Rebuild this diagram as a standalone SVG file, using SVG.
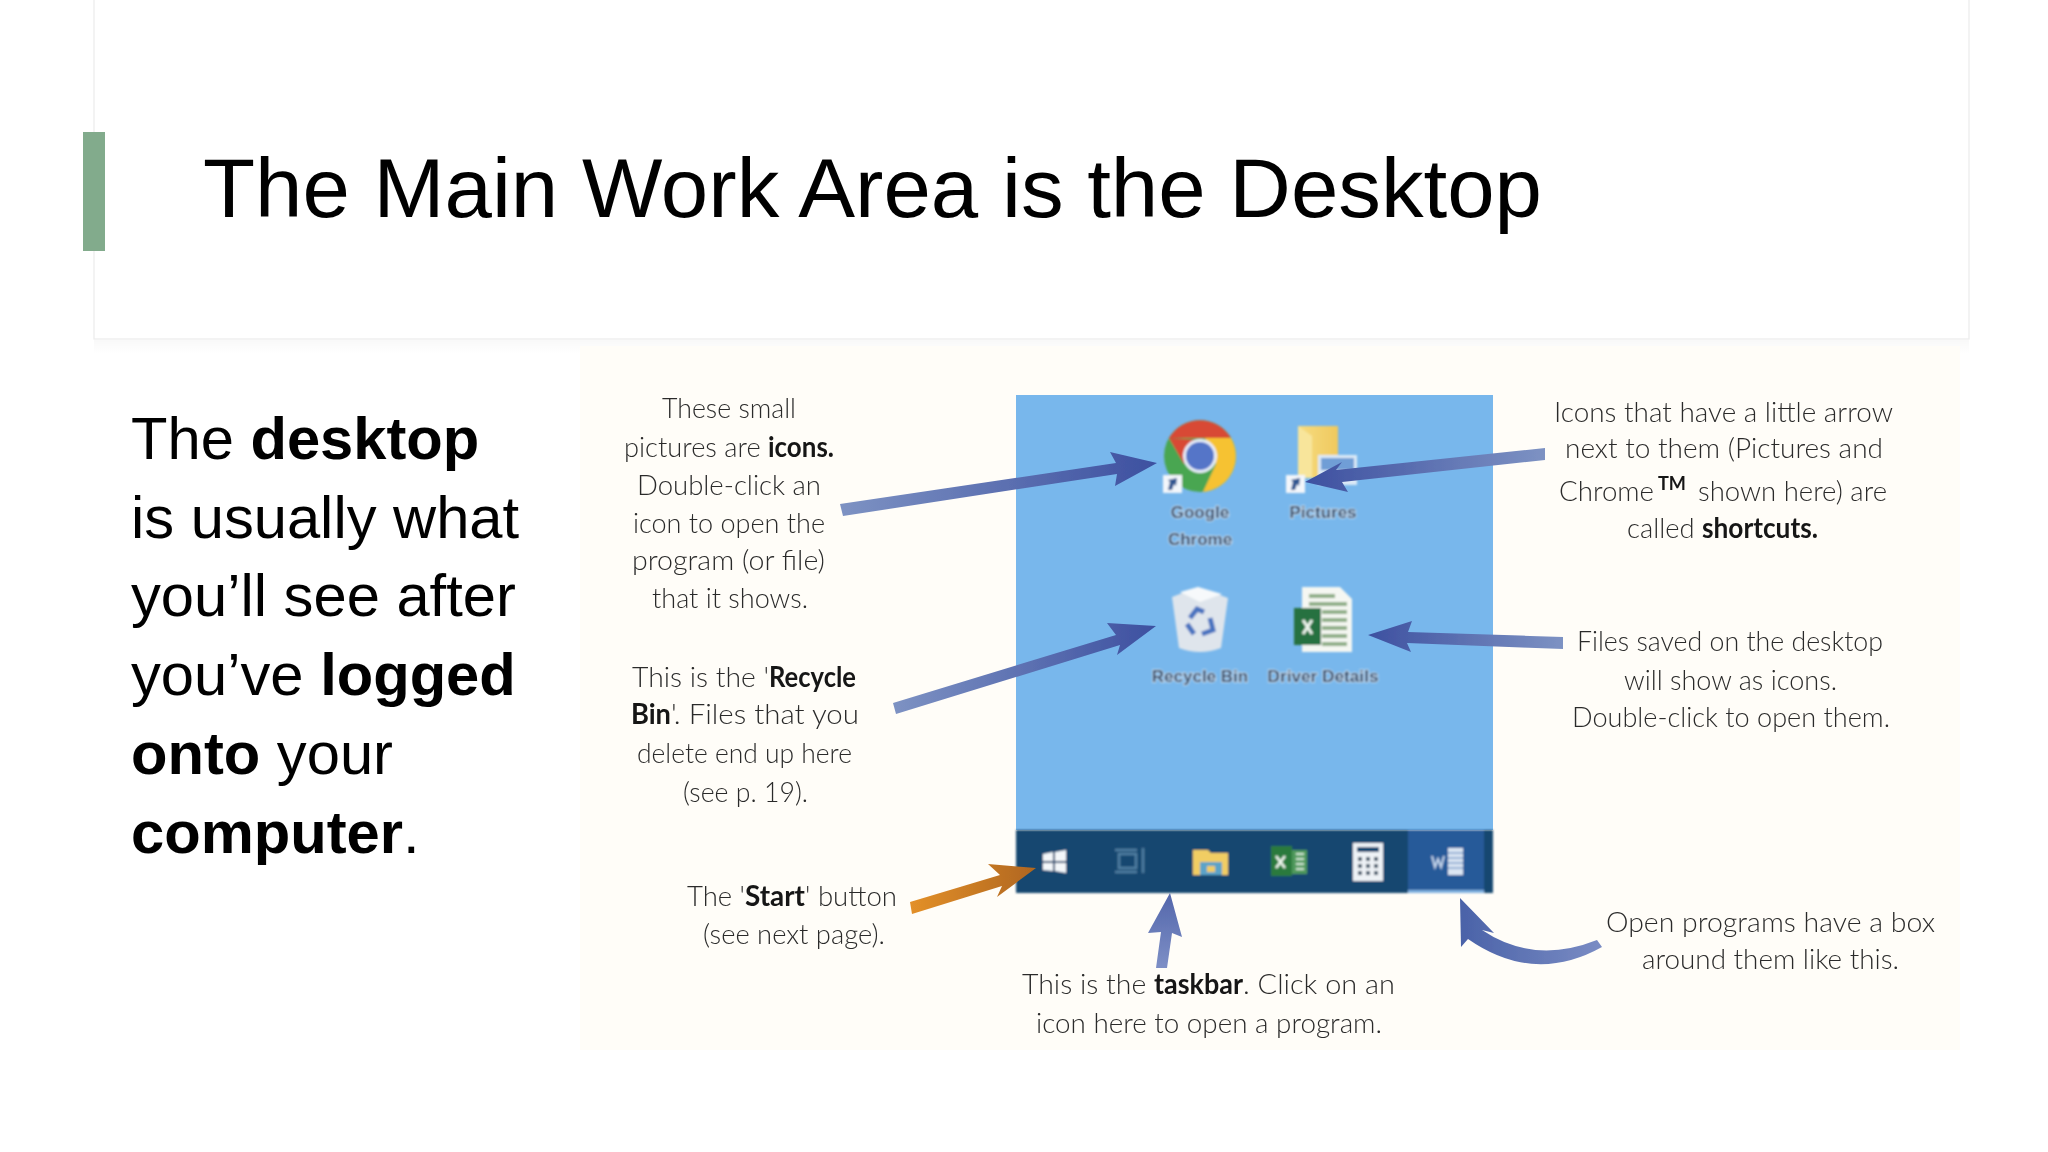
<svg xmlns="http://www.w3.org/2000/svg" width="2048" height="1152" viewBox="0 0 2048 1152">
<style>
.title{font:84px "Liberation Sans",Arial,sans-serif;fill:#000}
.body{font:59.7px "Liberation Sans",Arial,sans-serif;fill:#000}
.b{font-weight:700}
.c{font-family:Lato,"Open Sans",sans-serif;font-weight:300;font-size:28px;fill:#2c2c2c}
.c .k,.k{font-weight:700;fill:#151515}
.lab{font:17px "Liberation Sans",Arial,sans-serif;font-weight:700;fill:#2a4668;stroke:#cfe3f6;stroke-width:1.6;paint-order:stroke;text-anchor:middle}
</style>
<defs>
<linearGradient id="gR" x1="0" x2="1" y1="0" y2="0"><stop offset="0" stop-color="#7d92c3"/><stop offset="1" stop-color="#3d50a0"/></linearGradient>
<linearGradient id="gL" x1="1" x2="0" y1="0" y2="0"><stop offset="0" stop-color="#7d92c3"/><stop offset="1" stop-color="#3d50a0"/></linearGradient>
<linearGradient id="gU" x1="0" x2="0" y1="1" y2="0"><stop offset="0" stop-color="#7d8fc6"/><stop offset="1" stop-color="#5366ab"/></linearGradient>
<linearGradient id="gC" x1="1" x2="0" y1="0" y2="0"><stop offset="0" stop-color="#7a8cc4"/><stop offset="1" stop-color="#4a62a8"/></linearGradient>
<linearGradient id="gO" x1="0" x2="1" y1="0" y2="0"><stop offset="0" stop-color="#e39029"/><stop offset="1" stop-color="#b0661f"/></linearGradient>
<linearGradient id="bar" x1="0" x2="0" y1="0" y2="1"><stop offset="0" stop-color="#000" stop-opacity=".025"/><stop offset="1" stop-color="#000" stop-opacity="0"/></linearGradient>
<linearGradient id="fold" x1="0" x2="1" y1="0" y2="0"><stop offset="0" stop-color="#f6dc80"/><stop offset="1" stop-color="#f0c95e"/></linearGradient>
<filter id="s" x="-5%" y="-5%" width="110%" height="110%"><feGaussianBlur stdDeviation="0.55"/></filter>
<filter id="s2" x="-5%" y="-5%" width="110%" height="110%"><feGaussianBlur stdDeviation="0.9"/></filter>
</defs>
<rect width="2048" height="1152" fill="#fff"/>

<g id="title-card">
<rect x="94" y="340" width="1875" height="14" fill="url(#bar)"/>
<rect x="94" y="-2" width="1875" height="341" fill="#fff" stroke="#ececec" stroke-width="1.200"/>
<rect x="83" y="132" width="22" height="119" fill="#82ab8c"/>
<text class="title" x="203" y="217" textLength="1339" lengthAdjust="spacingAndGlyphs">The Main Work Area is the Desktop</text>
</g>

<g id="body-text" class="body">
<text x="131" y="459">The <tspan class="b">desktop</tspan></text>
<text x="131" y="538">is usually what</text>
<text x="131" y="616">you’ll see after</text>
<text x="131" y="695">you’ve <tspan class="b">logged</tspan></text>
<text x="131" y="774"><tspan class="b">onto</tspan> your</text>
<text x="131" y="853"><tspan class="b">computer</tspan>.</text>
</g>

<rect id="diagram-bg" x="580" y="346" width="1380" height="704" fill="#fffdf8"/>

<g id="desktop" filter="url(#s)">
<rect x="1016" y="395" width="477" height="435" fill="#78b7ec"/>
</g>

<g id="icon-chrome" filter="url(#s2)">
<circle cx="1200" cy="456" r="36" fill="#4aa651"/>
<path d="M1169 438A36 36 0 0 1 1231 438L1200 438Z" fill="#d84a35"/>
<path d="M1169 438L1184 464 1200 440Z" fill="#d84a35"/>
<path d="M1231 438A36 36 0 0 1 1203 492L1216 464 1205 438Z" fill="#f6c233"/>
<circle cx="1200" cy="456" r="17" fill="#e9effa"/>
<circle cx="1200" cy="456" r="14" fill="#5575c8"/>
<rect x="1163" y="475" width="19" height="18" fill="#f3f6fb"/>
<path d="M1168 490L1170 482 1168 480 1177 478 1176 486 1174 484 1172 490Z" fill="#2d5590"/>
<text class="lab" x="1200" y="518">Google</text>
<text class="lab" x="1200" y="545">Chrome</text>
</g>

<g id="icon-pictures" filter="url(#s2)">
<rect x="1298" y="426" width="40" height="52" fill="url(#fold)"/>
<path d="M1298 426L1312 436V478H1298Z" fill="#f8e59b"/>
<rect x="1318" y="455" width="39" height="30" fill="#dce9f6"/>
<rect x="1321" y="458" width="33" height="12" fill="#6f9ed6"/>
<rect x="1286" y="475" width="19" height="18" fill="#f3f6fb"/>
<path d="M1291 490L1293 482 1291 480 1300 478 1299 486 1297 484 1295 490Z" fill="#2d5590"/>
<text class="lab" x="1323" y="518">Pictures</text>
</g>

<g id="icon-recycle-bin" filter="url(#s2)">
<path d="M1172 597L1198 587 1228 598 1221 648Q1200 656 1179 648Z" fill="#dfe5ec"/>
<path d="M1180 592L1198 587 1222 594 1200 602Z" fill="#f7f9fb"/>
<path d="M1190 618L1197 609 1204 612M1210 618L1213 630 1202 634M1194 634L1187 624" fill="none" stroke="#4a73c0" stroke-width="5"/>
<text class="lab" x="1200" y="682">Recycle Bin</text>
</g>

<g id="icon-driver-details" filter="url(#s2)">
<path d="M1302 587H1340L1352 599V652H1302Z" fill="#f5f7f2"/>
<g fill="#8fae86"><rect x="1309" y="594" width="26" height="4"/><rect x="1309" y="602" width="38" height="4"/><rect x="1322" y="610" width="25" height="4"/><rect x="1322" y="618" width="25" height="4"/><rect x="1322" y="626" width="25" height="4"/><rect x="1322" y="634" width="25" height="4"/><rect x="1322" y="642" width="25" height="4"/></g>
<rect x="1294" y="608" width="27" height="37" fill="#27713f"/>
<path d="M1303 620L1312 634M1312 620L1303 634" stroke="#eef5ee" stroke-width="3"/>
<text class="lab" x="1323" y="682" textLength="111" lengthAdjust="spacingAndGlyphs">Driver Details</text>
</g>

<g id="taskbar" filter="url(#s2)">
<rect x="1016" y="830" width="477" height="63" fill="#17466f"/>
<rect x="1408" y="830" width="76" height="60" fill="#265a99"/>
<rect x="1408" y="890" width="76" height="3" fill="#7fb0e0"/>
<g id="btn-start" fill="#f4f7fa"><path d="M1043 854L1053 852V861H1043ZM1055 852L1066 850V861H1055ZM1043 863H1053V871L1043 870ZM1055 863H1066V873L1055 871Z"/></g>
<g id="btn-taskview" fill="none" stroke="#4f7fa2" stroke-width="2.500"><rect x="1119" y="854" width="17" height="14"/><path d="M1115 850H1137M1115 872H1137M1143 848V873"/></g>
<g id="btn-explorer"><path d="M1193 850H1208L1211 853H1228V875H1193Z" fill="#f1cd63"/><rect x="1200" y="862" width="22" height="13" fill="#5ba3c8"/><rect x="1207" y="866" width="8" height="6" fill="#f1cd63"/></g>
<g id="btn-excel"><rect x="1271" y="846" width="21" height="30" fill="#2c7a3d"/><rect x="1292" y="850" width="15" height="24" fill="#4f9a5c"/><path d="M1296 854H1304M1296 859H1304M1296 864H1304M1296 869H1304" stroke="#cfe6d3" stroke-width="2"/><path d="M1276 856L1285 868M1285 856L1276 868" stroke="#eef5ee" stroke-width="2.500"/></g>
<g id="btn-calculator"><rect x="1353" y="843" width="30" height="38" fill="#eef2f6"/><rect x="1357" y="847" width="22" height="5" fill="#17466f"/><g fill="#44586c"><rect x="1358" y="857" width="4" height="4"/><rect x="1366" y="857" width="4" height="4"/><rect x="1374" y="857" width="4" height="4"/><rect x="1358" y="864" width="4" height="4"/><rect x="1366" y="864" width="4" height="4"/><rect x="1374" y="864" width="4" height="4"/><rect x="1358" y="871" width="4" height="4"/><rect x="1366" y="871" width="4" height="4"/><rect x="1374" y="871" width="4" height="4"/></g></g>
<g id="btn-word"><path d="M1432 856L1435 867 1438 859 1441 867 1444 856" fill="none" stroke="#c5d6ec" stroke-width="2"/><rect x="1448" y="848" width="15" height="27" fill="#dbe6f3"/><path d="M1448 853H1463M1448 858H1463M1448 863H1463M1448 868H1463" stroke="#7f9fcb" stroke-width="1.500"/></g>
</g>

<g id="connectors" filter="url(#s)">
<path id="arrow-icons" fill="url(#gR)" d="M840 504L1116 463 1110 452 1157 463 1115 486 1117 474 843 516Z"/>
<path id="arrow-recycle" fill="url(#gR)" d="M893 703L1116 635 1107 623 1156 626 1117 655 1120 645 896 714Z"/>
<path id="arrow-shortcuts" fill="url(#gL)" d="M1545 448L1336 470 1342 462 1305 482 1348 492 1342 482 1545 460Z"/>
<path id="arrow-files" fill="url(#gL)" d="M1563 637L1408 632 1412 621 1368 635 1411 652 1407 643 1563 649Z"/>
<path id="arrow-start" fill="url(#gO)" d="M910 902L1000 875 988 864 1036 868 997 897 1002 886 912 914Z"/>
<path id="arrow-taskbar" fill="url(#gU)" d="M1156 968L1161 932 1148 933 1170 893 1182 937 1172 933 1167 968Z"/>
<path id="arrow-open" fill="url(#gC)" d="M1597 940Q1534 965 1482 930L1494 933 1460 898 1461 947 1468 939Q1534 985 1602 947Z"/>
</g>

<g id="label-icons" class="c" filter="url(#s)">
<text x="662" y="418" textLength="134" lengthAdjust="spacingAndGlyphs">These small</text>
<text y="457"><tspan x="624" textLength="144" lengthAdjust="spacingAndGlyphs">pictures are </tspan><tspan class="k" x="768" textLength="66" lengthAdjust="spacingAndGlyphs">icons.</tspan></text>
<text x="637" y="495" textLength="184" lengthAdjust="spacingAndGlyphs">Double-click an</text>
<text x="633" y="533" textLength="192" lengthAdjust="spacingAndGlyphs">icon to open the</text>
<text x="632" y="570" textLength="193" lengthAdjust="spacingAndGlyphs">program (or file)</text>
<text x="652" y="608" textLength="156" lengthAdjust="spacingAndGlyphs">that it shows.</text>
</g>
<g id="label-recycle" class="c" filter="url(#s)">
<text y="687"><tspan x="632" textLength="137" lengthAdjust="spacingAndGlyphs">This is the '</tspan><tspan class="k" x="769" textLength="87" lengthAdjust="spacingAndGlyphs">Recycle</tspan></text>
<text y="724"><tspan class="k" x="631" textLength="40" lengthAdjust="spacingAndGlyphs">Bin</tspan><tspan x="671" textLength="188" lengthAdjust="spacingAndGlyphs">'.  Files that you</tspan></text>
<text x="637" y="763" textLength="215" lengthAdjust="spacingAndGlyphs">delete end up here</text>
<text x="683" y="802" textLength="125" lengthAdjust="spacingAndGlyphs">(see p. 19).</text>
</g>
<g id="label-start" class="c" filter="url(#s)">
<text y="906"><tspan x="687" textLength="58" lengthAdjust="spacingAndGlyphs">The '</tspan><tspan class="k" x="745" textLength="60" lengthAdjust="spacingAndGlyphs">Start</tspan><tspan x="805" textLength="92" lengthAdjust="spacingAndGlyphs">' button</tspan></text>
<text x="703" y="944" textLength="182" lengthAdjust="spacingAndGlyphs">(see next page).</text>
</g>
<g id="label-taskbar" class="c" filter="url(#s)">
<text y="994"><tspan x="1022" textLength="132" lengthAdjust="spacingAndGlyphs">This is the </tspan><tspan class="k" x="1154" textLength="89" lengthAdjust="spacingAndGlyphs">taskbar</tspan><tspan x="1243" textLength="152" lengthAdjust="spacingAndGlyphs">. Click on an</tspan></text>
<text x="1036" y="1033" textLength="346" lengthAdjust="spacingAndGlyphs">icon here to open a program.</text>
</g>
<g id="label-shortcuts" class="c" filter="url(#s)">
<text x="1554" y="422" textLength="339" lengthAdjust="spacingAndGlyphs">Icons that have a little arrow</text>
<text x="1565" y="458" textLength="318" lengthAdjust="spacingAndGlyphs">next to them (Pictures and</text>
<text x="1559" y="501" textLength="95" lengthAdjust="spacingAndGlyphs">Chrome</text>
<text class="k" x="1658" y="490" style="font-size:18px" textLength="28" lengthAdjust="spacingAndGlyphs">TM</text>
<text x="1698" y="501" textLength="189" lengthAdjust="spacingAndGlyphs">shown here) are</text>
<text y="538"><tspan x="1627" textLength="75" lengthAdjust="spacingAndGlyphs">called </tspan><tspan class="k" x="1702" textLength="116" lengthAdjust="spacingAndGlyphs">shortcuts.</tspan></text>
</g>
<g id="label-files" class="c" filter="url(#s)">
<text x="1577" y="651" textLength="306" lengthAdjust="spacingAndGlyphs">Files saved on the desktop</text>
<text x="1624" y="690" textLength="213" lengthAdjust="spacingAndGlyphs">will show as icons.</text>
<text x="1572" y="727" textLength="318" lengthAdjust="spacingAndGlyphs">Double-click to open them.</text>
</g>
<g id="label-open" class="c" filter="url(#s)">
<text x="1606" y="932" textLength="329" lengthAdjust="spacingAndGlyphs">Open programs have a box</text>
<text x="1642" y="969" textLength="257" lengthAdjust="spacingAndGlyphs">around them like this.</text>
</g>
</svg>
